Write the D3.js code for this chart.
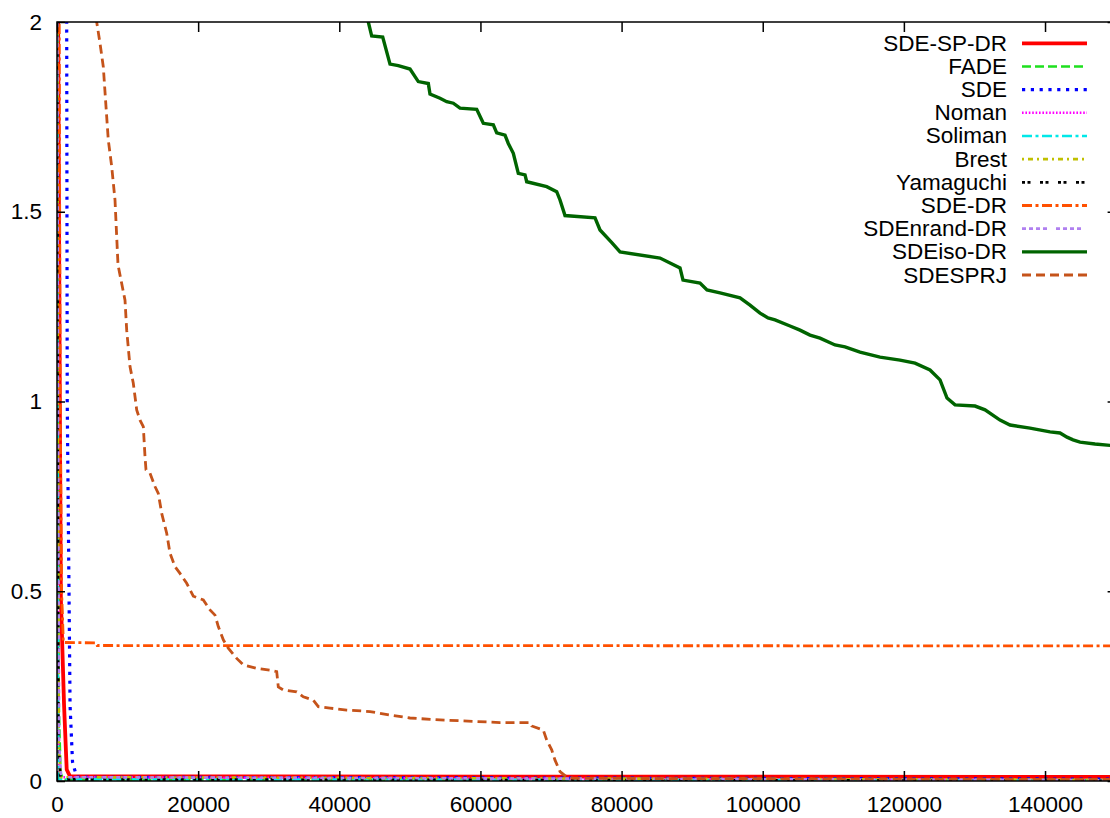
<!DOCTYPE html>
<html>
<head>
<meta charset="utf-8">
<script src="https://cdn.jsdelivr.net/npm/d3@7"></script>
<style>
  html, body { margin: 0; padding: 0; background: #fff; }
  svg { display: block; font-family: "Liberation Sans", Arial, Helvetica, sans-serif; }
</style>
</head>
<body>
<svg id="chart" width="1110" height="818"></svg>
<script>
// Series names, in plotting / legend order
const seriesNames = ["SDE-SP-DR", "FADE", "SDE", "Noman", "Soliman", "Brest",
  "Yamaguchi", "SDE-DR", "SDEnrand-DR", "SDEiso-DR", "SDESPRJ"];

// Convergence curves: [evaluations, error]
const sdeSpDr = [[150, 2.05], [400, 1.0], [550, 0.48], [1000, 0.2], [1375, 0.03],
  [1840, 0.012], [150000, 0.011]];
const fade = [[0, 2.5], [100, 1.0], [250, 0.2], [500, 0.02], [1000, 0.003], [150000, 0.002]];
const sde = [[1370, 2.05], [1450, 1.0], [1700, 0.5], [1850, 0.2], [2200, 0.05],
  [2800, 0.01], [150000, 0.005]];
const noman = [[0, 2.5], [80, 0.8], [200, 0.1], [400, 0.01], [150000, 0.001]];
const soliman = [[0, 2.5], [60, 1.0], [150, 0.1], [300, 0.005], [150000, 0.001]];
const brest = [[0, 2.5], [120, 1.0], [250, 0.1], [500, 0.01], [150000, 0.003]];
const yamaguchi = [[0, 2.5], [90, 1.0], [200, 0.1], [500, 0.004], [150000, 0.0005]];
const sdeDr = [[300, 2.1], [450, 1.0], [650, 0.5], [900, 0.365], [5550, 0.364],
  [5700, 0.357], [150000, 0.356]];
const sdeNrandDr = [[0, 2.5], [140, 1.0], [300, 0.1], [600, 0.01], [150000, 0.002]];
const sdeIsoDr = [[43900, 2.06], [44111, 2.0], [44593, 1.963], [46152, 1.96], [47186, 1.889],
  [48362, 1.885], [50020, 1.876], [51196, 1.843], [52613, 1.838], [52854, 1.81],
  [54271, 1.799], [55220, 1.79], [56156, 1.786], [57105, 1.773], [59471, 1.77],
  [60407, 1.733], [61824, 1.729], [62306, 1.708], [63482, 1.702], [63949, 1.68],
  [64658, 1.654], [65366, 1.601], [66316, 1.597], [66556, 1.579], [69390, 1.566],
  [70807, 1.553], [71275, 1.531], [71984, 1.49], [76235, 1.484], [76943, 1.452],
  [78644, 1.418], [79777, 1.394], [85445, 1.378], [88279, 1.352], [88704, 1.32],
  [91113, 1.312], [92105, 1.294], [93947, 1.286], [96781, 1.273], [98198, 1.254],
  [99615, 1.233], [100749, 1.22], [101741, 1.215], [103866, 1.199], [105283, 1.188],
  [106700, 1.175], [108117, 1.167], [110243, 1.149], [111660, 1.144], [113785, 1.13],
  [116619, 1.117], [119453, 1.109], [121579, 1.101], [123704, 1.083], [125121, 1.057],
  [126113, 1.009], [127247, 0.991], [130081, 0.988], [131498, 0.978], [133623, 0.951],
  [135040, 0.938], [137874, 0.93], [140708, 0.92], [142125, 0.917], [143117, 0.906],
  [143967, 0.899], [144959, 0.893], [147085, 0.888], [150000, 0.883]];
const sdesprj = [[5500, 2.05], [5625, 2.0], [6093, 1.944], [6561, 1.882], [6943, 1.777],
  [7269, 1.689], [7751, 1.619], [8219, 1.531], [8644, 1.36], [9636, 1.267], [9876, 1.188],
  [10344, 1.092], [10812, 1.048], [11293, 0.978], [11761, 0.951], [12229, 0.934],
  [12470, 0.855], [12611, 0.82], [13178, 0.811], [13887, 0.776], [14354, 0.758],
  [14836, 0.705], [15544, 0.653], [16012, 0.6], [16721, 0.565], [17429, 0.547],
  [18378, 0.521], [19314, 0.487], [20731, 0.477], [21680, 0.451], [22389, 0.437],
  [22856, 0.407], [23565, 0.372], [24273, 0.35], [25463, 0.323], [26399, 0.306],
  [28297, 0.297], [30182, 0.292], [31131, 0.288], [31358, 0.248], [32067, 0.24],
  [33965, 0.235], [34901, 0.222], [36318, 0.213], [37026, 0.196], [38684, 0.192],
  [41050, 0.187], [44352, 0.183], [47186, 0.174], [50020, 0.166], [54271, 0.161],
  [62773, 0.154], [67024, 0.154], [67265, 0.145], [68909, 0.134], [69390, 0.108],
  [70099, 0.082], [70567, 0.055], [71275, 0.025], [71984, 0.014], [73160, 0.007],
  [150000, 0.004]];

const seriesData = [sdeSpDr, fade, sde, noman, soliman, brest, yamaguchi,
  sdeDr, sdeNrandDr, sdeIsoDr, sdesprj];

// Axis ticks
const xTicks = [0, 20000, 40000, 60000, 80000, 100000, 120000, 140000];
const yTicks = [0, 0.5, 1, 1.5, 2];

// Line styles (colour, width, dash pattern)
const styles = [
  { color: "#ff0000", width: 3.8, dash: null },
  { color: "#1ee01e", width: 2.6, dash: "9,4" },
  { color: "#0000ff", width: 3.2, dash: "3.2,5.6" },
  { color: "#ff00ff", width: 2.6, dash: "1.6,1.8" },
  { color: "#00e8e8", width: 2.6, dash: "10,3.5,3,3.5" },
  { color: "#c0c000", width: 2.6, dash: "2,4,5,4" },
  { color: "#000000", width: 2.8, dash: "3,2.5,3,9.5" },
  { color: "#ff5000", width: 2.8, dash: "10,3.5,3,3.5" },
  { color: "#b080f0", width: 2.6, dash: "4,3,4,3,4,3,4,9" },
  { color: "#006400", width: 3.4, dash: null },
  { color: "#c5531a", width: 2.8, dash: "9,5" }
];

const svg = d3.select("#chart");
const plotLeft = 57, plotTop = 22, plotBottom = 781;

const x = d3.scaleLinear().domain([0, 150000]).range([plotLeft, 1115.6]);
const y = d3.scaleLinear().domain([0, 2]).range([plotBottom, plotTop]);
const plotRight = x(150000);

svg.append("defs").append("clipPath").attr("id", "plotArea")
  .append("rect").attr("x", plotLeft).attr("y", plotTop)
  .attr("width", plotRight - plotLeft).attr("height", plotBottom - plotTop);

// Curves
const line = d3.line().x(d => x(d[0])).y(d => y(d[1]));
const plot = svg.append("g").attr("clip-path", "url(#plotArea)");
seriesData.forEach((pts, i) => {
  const s = styles[i];
  plot.append("path")
    .datum(pts)
    .attr("d", line)
    .attr("fill", "none")
    .attr("stroke", s.color)
    .attr("stroke-width", s.width)
    .attr("stroke-linejoin", "miter")
    .attr("stroke-dasharray", s.dash);
});

// Axes: ticks point inward and are mirrored on the opposite side
const fontSize = 22.5;
const bottomAxis = d3.axisBottom(x).tickValues(xTicks).tickSize(-10).tickPadding(15)
  .tickFormat(d3.format("d"));
const topAxis = d3.axisTop(x).tickValues(xTicks).tickSize(-10).tickFormat("");
const leftAxis = d3.axisLeft(y).tickValues(yTicks).tickSize(-8).tickPadding(15)
  .tickFormat(d => String(d));
const rightAxis = d3.axisRight(y).tickValues(yTicks).tickSize(-8).tickFormat("");

function styleAxis(g) {
  g.select(".domain").remove();
  g.selectAll(".tick line").attr("stroke", "#000").attr("stroke-width", 1.5);
  g.selectAll(".tick text").attr("fill", "#000")
    .style("font-size", fontSize + "px")
    .style("font-family", "'Liberation Sans', Arial, sans-serif");
}

svg.append("g").attr("transform", `translate(0,${plotBottom})`).call(bottomAxis).call(styleAxis);
svg.append("g").attr("transform", `translate(0,${plotTop})`).call(topAxis).call(styleAxis);
svg.append("g").attr("transform", `translate(${plotLeft},0)`).call(leftAxis).call(styleAxis);
svg.append("g").attr("transform", `translate(${plotRight},0)`).call(rightAxis).call(styleAxis);

// Frame
svg.append("rect")
  .attr("x", plotLeft).attr("y", plotTop)
  .attr("width", plotRight - plotLeft).attr("height", plotBottom - plotTop)
  .attr("fill", "none").attr("stroke", "#000").attr("stroke-width", 1.5);

// Legend
const legend = svg.append("g");
const rowY = d3.scaleLinear().domain([0, seriesNames.length - 1]).range([43.3, 275]);
seriesNames.forEach((name, i) => {
  const s = styles[i];
  const yy = rowY(i);
  legend.append("text")
    .attr("x", 1007).attr("y", yy)
    .attr("text-anchor", "end")
    .attr("dominant-baseline", "central")
    .style("font-size", fontSize + "px")
    .attr("fill", "#000")
    .text(name);
  legend.append("line")
    .attr("x1", 1022).attr("x2", 1087)
    .attr("y1", yy).attr("y2", yy)
    .attr("stroke", s.color)
    .attr("stroke-width", s.width)
    .attr("stroke-dasharray", s.dash);
});
</script>
</body>
</html>
